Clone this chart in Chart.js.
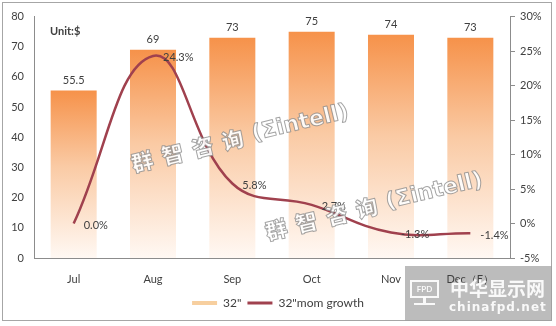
<!DOCTYPE html>
<html>
<head>
<meta charset="utf-8">
<script src="https://cdn.jsdelivr.net/npm/chart.js@4.4.1/dist/chart.umd.min.js"></script>
<style>
  html, body { margin: 0; padding: 0; background: #fff; }
  #wrap { width: 556px; height: 326px; }
</style>
</head>
<body>
<div id="wrap"><canvas id="myChart0" width="556" height="326"></canvas></div>
<script>
// monthly price of 32" panels and month-on-month growth
var months = ['Jul', 'Aug', 'Sep', 'Oct', 'Nov', 'Dec（E）'];
var price32 = [55.5, 69, 73, 75, 74, 73];
var momGrowth = [0.0, 24.3, 5.8, 2.7, -1.3, -1.4];
var priceTicks = [0, 10, 20, 30, 40, 50, 60, 70, 80];
var growthTicks = [-5, 0, 5, 10, 15, 20, 25, 30];
var seriesNames = ['32"', '32"mom growth'];
var markCjk = '群智咨询';
var markLatin = '(Σintell)';

var FONT = 'Lato, "Liberation Sans", sans-serif';
var TEXT = '#404040';
var AXIS = '#8c8c8c';
var LINE = '#a0414e';

function barFill(c) {
  var chart = c.chart;
  if (!chart.chartArea || c.dataIndex === undefined) return '#f7964a';
  var y = chart.scales.y;
  var top = y.getPixelForValue(price32[c.dataIndex]);
  var g = chart.ctx.createLinearGradient(0, top, 0, y.getPixelForValue(0));
  g.addColorStop(0, '#f6924a');
  g.addColorStop(0.45, '#facaa4');
  g.addColorStop(1, '#fff8f3');
  return g;
}

// hollow tilted watermark, drawn in two runs (wide-spaced CJK + tight latin)
function drawMark(ctx, cx, cy) {
  ctx.save();
  ctx.translate(cx, cy);
  ctx.rotate(-13.5 * Math.PI / 180);
  ctx.textBaseline = 'middle';
  ctx.textAlign = 'left';
  ctx.lineWidth = 1;
  ctx.lineJoin = 'round';
  ctx.fillStyle = 'rgba(255,255,255,0.9)';
  ctx.strokeStyle = 'rgba(125,125,125,0.7)';

  var cjkFont = '900 22px "Noto Sans CJK SC", sans-serif';
  var latFont = '900 22px "DejaVu Sans", sans-serif';
  ctx.font = cjkFont;
  ctx.letterSpacing = '9px';
  var w1 = ctx.measureText(markCjk).width;
  ctx.font = latFont;
  ctx.letterSpacing = '0px';
  var w2 = ctx.measureText(markLatin).width;
  var x = -(w1 + w2) / 2;

  ctx.font = cjkFont;
  ctx.letterSpacing = '9px';
  ctx.fillText(markCjk, x, 0);
  ctx.strokeText(markCjk, x, 0);
  ctx.font = latFont;
  ctx.letterSpacing = '0px';
  ctx.fillText(markLatin, x + w1, 0);
  ctx.strokeText(markLatin, x + w1, 0);
  ctx.restore();
}

var frame = {
  id: 'frame',
  beforeDraw: function(chart) {
    var ctx = chart.ctx;
    ctx.save();
    ctx.fillStyle = '#fff';
    ctx.fillRect(0, 0, chart.width, chart.height);
    ctx.strokeStyle = '#a6a6a6';
    ctx.lineWidth = 1;
    ctx.strokeRect(2.5, 2.5, 549, 318);
    // site badge background, under the axis labels
    ctx.fillStyle = 'rgba(160,160,160,0.7)';
    ctx.fillRect(405, 266, 147, 55);
    ctx.restore();
  },
  afterDraw: function(chart) {
    var ctx = chart.ctx;
    drawMark(ctx, 240, 138);
    drawMark(ctx, 374, 206);

    ctx.save();
    ctx.fillStyle = TEXT;
    ctx.font = 'bold 11px ' + FONT;
    ctx.textBaseline = 'middle';
    ctx.fillText('Unit:$', 50, 31);

    // badge: monitor icon + site name
    ctx.strokeStyle = 'rgba(255,255,255,0.9)';
    ctx.fillStyle = 'rgba(255,255,255,0.9)';
    ctx.lineWidth = 2;
    ctx.strokeRect(411, 281, 27, 16);
    ctx.fillRect(423, 297, 3, 6);
    ctx.fillRect(414, 303, 21, 2);
    ctx.font = 'bold 8px ' + FONT;
    ctx.textAlign = 'center';
    ctx.textBaseline = 'middle';
    ctx.fillText('FPD', 424.5, 289.5);
    ctx.textAlign = 'left';
    ctx.textBaseline = 'alphabetic';
    ctx.font = 'bold 19px "Noto Sans CJK SC", sans-serif';
    ctx.fillText('中华显示网', 450, 296);
    ctx.font = 'bold 12px "DejaVu Sans", sans-serif';
    ctx.letterSpacing = '1px';
    ctx.fillText('chinafpd.net', 449, 311);
    ctx.restore();
  }
};

var valueLabels = {
  id: 'valueLabels',
  afterDatasetsDraw: function(chart) {
    var ctx = chart.ctx;
    ctx.save();
    ctx.font = '11px ' + FONT;
    ctx.fillStyle = TEXT;
    ctx.textAlign = 'center';
    ctx.textBaseline = 'bottom';
    chart.getDatasetMeta(0).data.forEach(function(bar, i) {
      ctx.fillText(String(price32[i]), bar.x, bar.y - 5);
    });
    ctx.textAlign = 'left';
    ctx.textBaseline = 'middle';
    chart.getDatasetMeta(1).data.forEach(function(p, i) {
      ctx.fillText(momGrowth[i].toFixed(1) + '%', p.x + 10, p.y + 2);
    });
    ctx.restore();
  }
};

var ctx = document.getElementById('myChart0').getContext('2d');
var chart = new Chart(ctx, {
  data: {
    labels: months,
    datasets: [{
      type: 'bar',
      label: seriesNames[0],
      data: price32,
      yAxisID: 'y',
      backgroundColor: barFill,
      borderWidth: 0,
      barPercentage: 0.58,
      categoryPercentage: 1,
      order: 1
    }, {
      type: 'line',
      label: seriesNames[1],
      data: momGrowth,
      yAxisID: 'y1',
      borderColor: LINE,
      borderWidth: 2.5,
      tension: 0.42,
      pointRadius: 0,
      fill: false,
      order: 0
    }]
  },
  options: {
    responsive: false,
    animation: false,
    layout: { padding: { left: 0, right: 0, top: 15, bottom: 7 } },
    plugins: {
      tooltip: { enabled: false },
      legend: {
        position: 'bottom',
        labels: {
          usePointStyle: true,
          pointStyleWidth: 25,
          padding: 6,
          color: TEXT,
          font: { family: FONT, size: 12 },
          generateLabels: function() {
            return [
              { text: seriesNames[0], pointStyle: 'line', strokeStyle: '#f7cf9f', fillStyle: '#f7cf9f', lineWidth: 4, datasetIndex: 0, hidden: false, fontColor: TEXT },
              { text: seriesNames[1], pointStyle: 'line', strokeStyle: LINE, fillStyle: LINE, lineWidth: 3, datasetIndex: 1, hidden: false, fontColor: TEXT }
            ];
          }
        }
      }
    },
    scales: {
      x: {
        grid: { display: false, drawTicks: false },
        border: { display: true, color: AXIS, width: 1 },
        ticks: { color: TEXT, font: { family: FONT, size: 11 }, padding: 15, maxRotation: 0 },
        afterFit: function(s) { s.height = 33; }
      },
      y: {
        position: 'left',
        min: 0, max: 80,
        grid: { display: false, drawTicks: false },
        border: { display: true, color: AXIS, width: 1 },
        afterBuildTicks: function(s) { s.ticks = priceTicks.map(function(v) { return { value: v }; }); },
        ticks: { color: TEXT, font: { family: FONT, size: 11 }, padding: 10 },
        afterFit: function(s) { s.width = 34; }
      },
      y1: {
        position: 'right',
        min: -5, max: 30,
        grid: { drawOnChartArea: false, drawTicks: true, tickLength: 5, color: AXIS },
        border: { display: true, color: AXIS, width: 1 },
        afterBuildTicks: function(s) { s.ticks = growthTicks.map(function(v) { return { value: v }; }); },
        ticks: { color: TEXT, font: { family: FONT, size: 11 }, padding: 5,
          callback: function(v) { return v + '%'; } },
        afterFit: function(s) { s.width = 46; }
      }
    }
  },
  plugins: [frame, valueLabels]
});
</script>
</body>
</html>
